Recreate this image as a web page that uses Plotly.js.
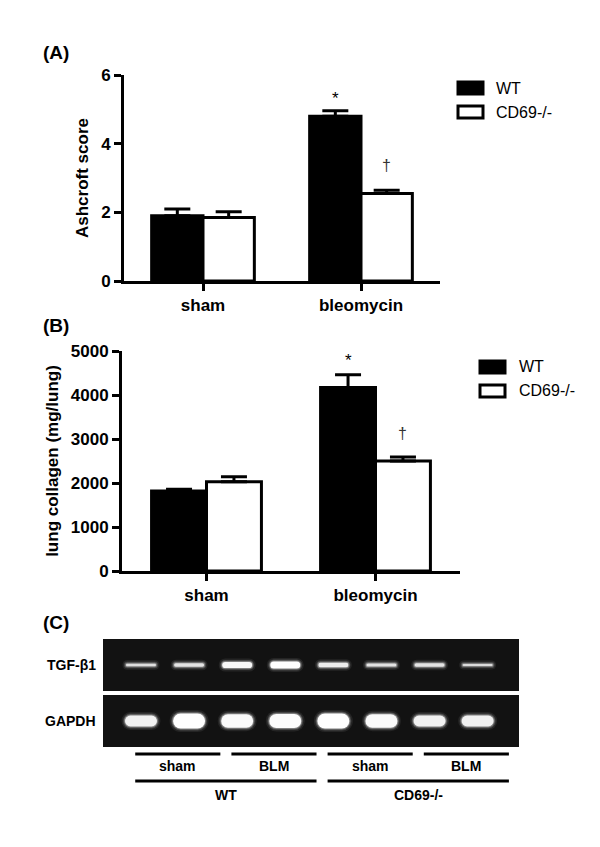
<!DOCTYPE html>
<html><head><meta charset="utf-8">
<script src="https://cdn.plot.ly/plotly-3.0.1.min.js"></script>
<style>
html,body{margin:0;padding:0;background:#fff}
.scatterlayer .js-line{stroke-linecap:round !important}
</style>
</head><body><div id="chart" style="width:600px;height:847px"></div>
<script>
// ---------- data ----------
const groups = ['sham', 'bleomycin'];
const seriesNames = ['WT', 'CD69-/-'];

const ashcroftWT = [1.9, 4.8];
const ashcroftWTErr = [0.2, 0.16];
const ashcroftKO = [1.85, 2.55];
const ashcroftKOErr = [0.17, 0.09];
const ashcroftWTSig = ['', '*'];
const ashcroftKOSig = ['', '†'];
const ashcroftTicks = [0, 2, 4, 6];

const collagenWT = [1820, 4170];
const collagenWTErr = [40, 290];
const collagenKO = [2030, 2500];
const collagenKOErr = [110, 90];
const collagenWTSig = ['', '*'];
const collagenKOSig = ['', '†'];
const collagenTicks = [0, 1000, 2000, 3000, 4000, 5000];

const laneGenotype = ['WT', 'WT', 'WT', 'WT', 'CD69-/-', 'CD69-/-', 'CD69-/-', 'CD69-/-'];
const laneTreatment = ['sham', 'sham', 'BLM', 'BLM', 'sham', 'sham', 'BLM', 'BLM'];
const tgfSignal = [0.38, 0.5, 0.88, 1.0, 0.62, 0.44, 0.5, 0.31];
const gapdhSignal = [0.72, 1.0, 0.89, 0.94, 1.0, 0.89, 0.72, 0.72];
const geneLabels = ['TGF-β1', 'GAPDH'];

// ---------- helpers ----------
const W = 600, H = 847;
const px = v => v / W;
const py = v => 1 - v / H;
const FONT = 'Liberation Sans, Arial, sans-serif';
const BARGAP = 0.35;
const off = (1 - BARGAP) / 4;

function barTrace(y, err, fill, xa, ya, name) {
  return {
    type: 'bar', x: groups, y: y, xaxis: xa, yaxis: ya, name: name, showlegend: false,
    marker: {color: fill, line: {color: '#000', width: 3}},
    error_y: {type: 'data', symmetric: false, array: err, arrayminus: err.map(() => 0),
      color: '#000', thickness: 3, width: 13},
    hoverinfo: 'skip'
  };
}

const traces = [
  barTrace(ashcroftWT, ashcroftWTErr, '#000', 'x', 'y', seriesNames[0]),
  barTrace(ashcroftKO, ashcroftKOErr, '#fff', 'x', 'y', seriesNames[1]),
  barTrace(collagenWT, collagenWTErr, '#000', 'x2', 'y2', seriesNames[0]),
  barTrace(collagenKO, collagenKOErr, '#fff', 'x2', 'y2', seriesNames[1])
];

// gel bands: soft glowing strokes with round caps
const gelLeft = 103, gelRight = 519;
const gelRange = [-0.79, 7.86];
const lanePx = (gelRight - gelLeft) / (gelRange[1] - gelRange[0]);
function bandTraces(signal, xa, ya, maxW, lenPx) {
  const out = [];
  const layers = [{extra: 7, a: 0.08}, {extra: 4, a: 0.16}, {extra: 2, a: 0.3}, {extra: 0, a: 1}];
  signal.forEach((s, i) => {
    const w = maxW * s;
    layers.forEach(L => {
      const lw = w + L.extra;
      const half = Math.max(0.02, (lenPx / 2 + L.extra / 2 - lw / 2) / lanePx);
      const alpha = L.extra === 0 ? (0.6 + 0.4 * s) : L.a;
      out.push({type: 'scatter', mode: 'lines', x: [i - half, i + half], y: [0, 0],
        xaxis: xa, yaxis: ya, showlegend: false, hoverinfo: 'skip',
        line: {color: 'rgba(255,255,255,' + alpha.toFixed(2) + ')', width: lw}});
    });
  });
  return out;
}
traces.push(...bandTraces(tgfSignal, 'x3', 'y3', 7, 30));
traces.push(...bandTraces(gapdhSignal, 'x4', 'y4', 15, 32));

// ---------- layout ----------
const tickFont = {family: FONT, size: 17, weight: 'bold', color: '#000'};
const axBase = {showline: true, linewidth: 3, linecolor: '#000', ticks: 'outside', ticklen: 7,
  tickwidth: 3, tickcolor: '#000', showgrid: false, zeroline: false, fixedrange: true, tickfont: tickFont};

const layout = {
  width: W, height: H, margin: {l: 0, r: 0, t: 0, b: 0},
  paper_bgcolor: '#fff', plot_bgcolor: 'rgba(0,0,0,0)',
  barmode: 'group', bargap: BARGAP, bargroupgap: 0,
  font: {family: FONT, color: '#000'},
  xaxis: Object.assign({}, axBase, {domain: [px(124), px(440)], anchor: 'y', type: 'category', range: [-0.5, 1.5]}),
  yaxis: Object.assign({}, axBase, {domain: [py(281), py(75)], anchor: 'x', range: [0, 6], tickvals: ashcroftTicks,
    title: {text: 'Ashcroft score', font: {family: FONT, size: 17, weight: 'bold'}, standoff: 9}}),
  xaxis2: Object.assign({}, axBase, {domain: [px(122), px(460)], anchor: 'y2', type: 'category', range: [-0.5, 1.5]}),
  yaxis2: Object.assign({}, axBase, {domain: [py(571), py(351)], anchor: 'x2', range: [0, 5000], tickvals: collagenTicks,
    title: {text: 'lung collagen (mg/lung)', font: {family: FONT, size: 17, weight: 'bold'}, standoff: 8}}),
  xaxis3: {domain: [px(gelLeft), px(gelRight)], anchor: 'y3', range: gelRange, visible: false, fixedrange: true},
  yaxis3: {domain: [py(691), py(639)], anchor: 'x3', range: [-1, 1], visible: false, fixedrange: true},
  xaxis4: {domain: [px(gelLeft), px(gelRight)], anchor: 'y4', range: gelRange, visible: false, fixedrange: true},
  yaxis4: {domain: [py(747), py(695)], anchor: 'x4', range: [-1, 1], visible: false, fixedrange: true},
  shapes: [], annotations: []
};

// gel backgrounds
['3', '4'].forEach(k => {
  layout.shapes.push({type: 'rect', xref: 'x' + k + ' domain', yref: 'y' + k + ' domain', x0: 0, x1: 1, y0: 0, y1: 1,
    fillcolor: '#121212', line: {width: 0}, layer: 'below'});
});

// gene labels
layout.annotations.push({text: geneLabels[0], xref: 'paper', yref: 'y3', x: px(98), y: 0, xanchor: 'right', yanchor: 'middle',
  showarrow: false, font: {family: FONT, size: 14, weight: 'bold'}});
layout.annotations.push({text: geneLabels[1], xref: 'paper', yref: 'y4', x: px(98), y: 0, xanchor: 'right', yanchor: 'middle',
  showarrow: false, font: {family: FONT, size: 14, weight: 'bold'}});

// group brackets under the gel
function spans(keyFn) {
  const res = [];
  laneTreatment.forEach((t, i) => {
    const k = keyFn(i);
    if (res.length && res[res.length - 1].key === k) res[res.length - 1].end = i;
    else res.push({key: k, label: keyFn(i, true), start: i, end: i});
  });
  return res;
}
const treatSpans = spans((i, lab) => lab ? laneTreatment[i] : laneGenotype[i] + '|' + laneTreatment[i]);
const genoSpans = spans((i, lab) => laneGenotype[i]);
function addBrackets(list, yLine, yText) {
  list.forEach(s => {
    const a = s.start - 0.12, b = s.end + 0.65;
    layout.shapes.push({type: 'line', xref: 'x3', yref: 'paper', x0: a, x1: b, y0: py(yLine), y1: py(yLine),
      line: {color: '#000', width: 3}});
    layout.annotations.push({text: s.label, xref: 'x3', yref: 'paper', x: (a + b) / 2, y: py(yText),
      xanchor: 'center', yanchor: 'middle', showarrow: false, font: {family: FONT, size: 14, weight: 'bold'}});
  });
}
addBrackets(treatSpans, 754, 766);
addBrackets(genoSpans, 781, 795);

// panel labels
[['(A)', 53], ['(B)', 325], ['(C)', 622]].forEach(([t, y]) => {
  layout.annotations.push({text: t, xref: 'paper', yref: 'paper', x: px(41), y: py(y), xanchor: 'left', yanchor: 'middle',
    showarrow: false, font: {family: FONT, size: 19, weight: 'bold'}});
});

// significance marks
function addSig(sig, vals, errs, xa, ya, side, shiftStar, shiftDag) {
  sig.forEach((s, i) => {
    if (!s) return;
    const dag = s === '†';
    layout.annotations.push({text: s, xref: xa, yref: ya, x: i + side * off, y: vals[i] + errs[i],
      xanchor: 'center', yanchor: 'bottom', yshift: dag ? shiftDag : shiftStar, showarrow: false,
      font: {family: FONT, size: dag ? 16 : 17, color: dag ? '#333' : '#000'}});
  });
}
addSig(ashcroftWTSig, ashcroftWT, ashcroftWTErr, 'x', 'y', -1, 1, 14);
addSig(ashcroftKOSig, ashcroftKO, ashcroftKOErr, 'x', 'y', 1, 1, 14);
addSig(collagenWTSig, collagenWT, collagenWTErr, 'x2', 'y2', -1, 3, 13);
addSig(collagenKOSig, collagenKO, collagenKOErr, 'x2', 'y2', 1, 3, 13);

// legends (drawn as keys + text)
function addLegend(x0, yRows, textX) {
  seriesNames.forEach((n, i) => {
    const yc = yRows[i];
    layout.shapes.push({type: 'rect', xref: 'paper', yref: 'paper', x0: px(x0), x1: px(x0 + 25),
      y0: py(yc + 6), y1: py(yc - 6), fillcolor: i === 0 ? '#000' : '#fff', line: {color: '#000', width: 3}});
    layout.annotations.push({text: n, xref: 'paper', yref: 'paper', x: px(textX), y: py(yc), xanchor: 'left',
      yanchor: 'middle', showarrow: false, font: {family: FONT, size: 16}});
  });
}
addLegend(458, [88, 112], 494);
addLegend(480, [367, 391], 517);

Plotly.newPlot('chart', traces, layout, {staticPlot: true, displayModeBar: false});
</script>
</body></html>
